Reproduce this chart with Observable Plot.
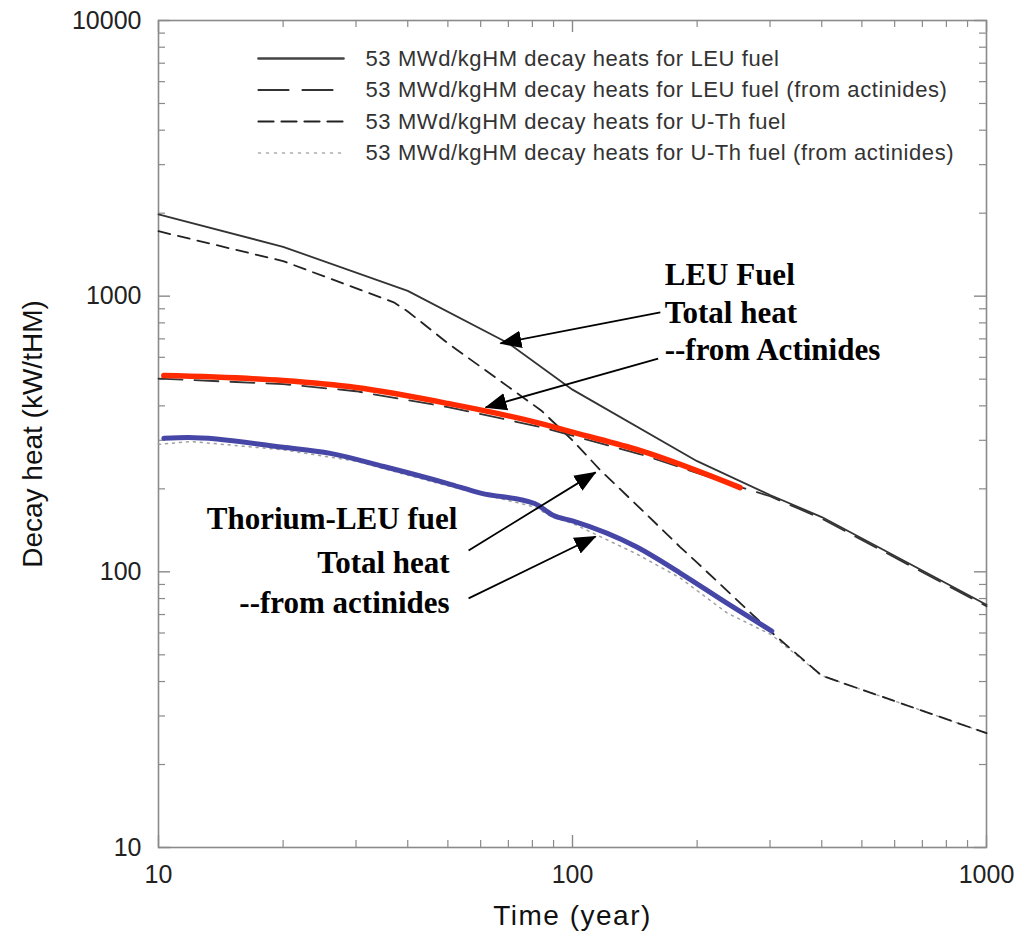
<!DOCTYPE html>
<html><head><meta charset="utf-8">
<script src="https://cdn.jsdelivr.net/npm/d3@7"></script>
<script src="https://cdn.jsdelivr.net/npm/@observablehq/plot@0.6"></script>
<style>body{margin:0;background:#fff}</style>
</head><body><div id="chart"></div>
<script>
// ---- data ----
const leuTotalYears = [10, 20, 40, 70, 100, 200, 300, 400, 1000];
const leuTotalHeat  = [1980, 1510, 1045, 675, 458, 252, 190, 158, 76];

const leuActYears = [10, 20, 30, 50, 84, 146, 254, 300, 400, 1000];
const leuActHeat  = [502, 480, 452, 396, 335, 267, 203, 188, 156, 75];

const uthTotalYears = [10, 20, 37, 40, 50, 84, 100, 117, 150, 182, 200, 300, 400, 1000];
const uthTotalHeat  = [1720, 1340, 950, 880, 675, 385, 300, 233, 163, 123, 108, 61, 42, 26];

const uthActYears = [10, 12, 20, 30, 50, 81, 90, 100, 143, 182, 236, 303, 400, 1000];
const uthActHeat  = [290, 297, 277, 252, 205, 172, 157, 150, 116, 95, 71, 59, 42, 26];

// highlighted overlays
const redYears = [10.3, 20, 30, 50, 84, 100, 146, 254];
const redHeat  = [515, 494, 466, 408, 345, 321, 275, 202];
const blueYears = [10.3, 11.8, 20, 26, 35, 50, 60, 81, 90, 100, 143, 182, 236, 303];
const blueHeat  = [305, 307, 283, 269, 241, 209, 193, 177, 160, 153, 123, 99, 77, 61];

const legendLabels = [
  "53 MWd/kgHM decay heats for LEU fuel",
  "53 MWd/kgHM decay heats for LEU fuel (from actinides)",
  "53 MWd/kgHM decay heats for U-Th fuel",
  "53 MWd/kgHM decay heats for U-Th fuel (from actinides)"
];

const xMajor = [10, 100, 1000];
const xMinor = [20,30,40,50,60,70,80,90,200,300,400,500,600,700,800,900];
const yMajor = [10, 100, 1000, 10000];
const yMinor = [20,30,40,50,60,70,80,90,200,300,400,500,600,700,800,900,2000,3000,4000,5000,6000,7000,8000,9000];

// annotations (data coordinates)
const leuNotes = [
  {x: 167, y: 1189, text: "LEU Fuel"},
  {x: 167, y: 865, text: "Total heat"},
  {x: 167, y: 636, text: "--from Actinides"}
];
const thNotes = [
  {x: 52.7, y: 155, text: "Thorium-LEU fuel"},
  {x: 50.5, y: 108, text: "Total heat"},
  {x: 50.5, y: 76.8, text: "--from actinides"}
];
const arrows = [
  {x1: 163, y1: 873, x2: 67.0, y2: 674},
  {x1: 161, y1: 594, x2: 61.7, y2: 395},
  {x1: 56.1, y1: 119.6, x2: 113.7, y2: 229.5},
  {x1: 56.1, y1: 80.1, x2: 113.7, y2: 134.4}
];

// ---- layout ----
const W = 1017, H = 937, mL = 158, mR = 31, mT = 20, mB = 90;
const innerW = W - mL - mR, innerH = H - mT - mB;
const sans = "'Liberation Sans', Arial, Helvetica, sans-serif";
const serif = "'Liberation Serif', 'Times New Roman', serif";
const axisColor = "#8a8a8a";

function filledArrow(color, context) {
  const doc = (context && context.document) || document;
  const ns = "http://www.w3.org/2000/svg";
  const m = doc.createElementNS(ns, "marker");
  m.setAttribute("viewBox", "0 -5 10 10");
  m.setAttribute("refX", "9.5");
  m.setAttribute("refY", "0");
  m.setAttribute("markerUnits", "userSpaceOnUse");
  m.setAttribute("markerWidth", "22");
  m.setAttribute("markerHeight", "22");
  m.setAttribute("orient", "auto");
  const p = doc.createElementNS(ns, "path");
  p.setAttribute("d", "M0,-4L10,0L0,4Z");
  p.setAttribute("fill", color);
  p.setAttribute("stroke", "none");
  m.appendChild(p);
  return m;
}

const hLine = {draw(ctx, l) { ctx.moveTo(0, 0); ctx.lineTo(0, -l); }};
const legendStyles = [
  {stroke: "#444", strokeWidth: 2.6, dash: null},
  {stroke: "#333", strokeWidth: 2.2, dash: "30,14"},
  {stroke: "#222", strokeWidth: 2.2, dash: "15,8"},
  {stroke: "#aaa", strokeWidth: 1.5, dash: "2,6"}
];

const marks = [
  Plot.frame({stroke: axisColor, strokeWidth: 1.6}),
  // ticks (inward)
  Plot.tickX(xMinor, {x: d => d, insetTop: innerH - 7, stroke: axisColor, strokeWidth: 1.2}),
  Plot.tickX(xMinor, {x: d => d, insetBottom: innerH - 7, stroke: axisColor, strokeWidth: 1.2}),
  Plot.tickX(xMajor, {x: d => d, insetTop: innerH - 12, stroke: axisColor, strokeWidth: 1.4}),
  Plot.tickX(xMajor, {x: d => d, insetBottom: innerH - 12, stroke: axisColor, strokeWidth: 1.4}),
  Plot.tickY(yMinor, {y: d => d, insetRight: innerW - 7, stroke: axisColor, strokeWidth: 1.2}),
  Plot.tickY(yMinor, {y: d => d, insetLeft: innerW - 7, stroke: axisColor, strokeWidth: 1.2}),
  Plot.tickY(yMajor, {y: d => d, insetRight: innerW - 12, stroke: axisColor, strokeWidth: 1.4}),
  Plot.tickY(yMajor, {y: d => d, insetLeft: innerW - 12, stroke: axisColor, strokeWidth: 1.4}),
  // tick labels
  Plot.text(xMajor, {x: d => d, text: d => String(d), frameAnchor: "bottom", lineAnchor: "middle", dy: 27, fontSize: 25, fill: "#222"}),
  Plot.text(yMajor, {y: d => d, text: d => String(d), frameAnchor: "left", lineAnchor: "middle", dx: -17, textAnchor: "end", fontSize: 25, fill: "#222"}),
  // axis labels
  Plot.text(["Time (year)"], {text: d => d, frameAnchor: "bottom", lineAnchor: "middle", textAnchor: "middle", dy: 69, fontSize: 28, fill: "#111"}),
  Plot.text(["Decay heat (kW/tHM)"], {text: d => d, frameAnchor: "left", lineAnchor: "middle", textAnchor: "middle", dx: -125, rotate: -90, fontSize: 28, fill: "#111"}),
  // data lines
  Plot.line(uthActYears, {x: uthActYears, y: uthActHeat, stroke: "#a0a0a0", strokeWidth: 1.5, strokeDasharray: "2,5"}),
  Plot.line(uthTotalYears, {x: uthTotalYears, y: uthTotalHeat, stroke: "#222", strokeWidth: 1.8, strokeDasharray: "12,8"}),
  Plot.line(leuActYears, {x: leuActYears, y: leuActHeat, stroke: "#333", strokeWidth: 1.8, strokeDasharray: "24,12"}),
  Plot.line(leuTotalYears, {x: leuTotalYears, y: leuTotalHeat, stroke: "#333", strokeWidth: 1.8}),
  Plot.line(redYears, {x: redYears, y: redHeat, stroke: "#ff2a00", strokeWidth: 5.5, curve: "monotone-x"}),
  Plot.line(blueYears, {x: blueYears, y: blueHeat, stroke: "#4646a6", strokeWidth: 5, curve: "monotone-x"}),
  // legend
  ...legendLabels.map((label, i) => Plot.vector([label], {
    frameAnchor: "top-left", dx: 100, dy: 38 + 31.5 * i, rotate: 90, length: 85, anchor: "start",
    shape: hLine, stroke: legendStyles[i].stroke, strokeWidth: legendStyles[i].strokeWidth,
    strokeDasharray: legendStyles[i].dash
  })),
  ...legendLabels.map((label, i) => Plot.text([label], {
    text: d => d, frameAnchor: "top-left", dx: 207, dy: 38 + 31.5 * i, textAnchor: "start", lineAnchor: "middle",
    fontSize: 22, fill: "#333"
  })),
  // annotations
  Plot.link(arrows, {x1: "x1", y1: "y1", x2: "x2", y2: "y2", stroke: "#000", strokeWidth: 1.8, markerEnd: filledArrow}),
  Plot.text(leuNotes, {x: "x", y: "y", text: "text", textAnchor: "start", fontFamily: serif, fontWeight: "bold", fontSize: 31, fill: "#000"}),
  Plot.text(thNotes, {x: "x", y: "y", text: "text", textAnchor: "end", fontFamily: serif, fontWeight: "bold", fontSize: 31, fill: "#000"})
];

const chart = Plot.plot({
  width: W, height: H,
  marginLeft: mL, marginRight: mR, marginTop: mT, marginBottom: mB,
  style: {fontFamily: sans, background: "#fff", overflow: "visible"},
  x: {type: "log", domain: [10, 1000], axis: null},
  y: {type: "log", domain: [10, 10000], axis: null},
  marks
});
// slight horizontal spacing tweaks to match the reference's wide glyphs
chart.querySelectorAll("text").forEach(t => {
  const s = t.textContent;
  if (s.startsWith("53 MWd")) t.style.letterSpacing = "0.6px";
  else if (s === "Time (year)") t.style.letterSpacing = "1.5px";
});
document.getElementById("chart").appendChild(chart);
</script>
</body></html>
